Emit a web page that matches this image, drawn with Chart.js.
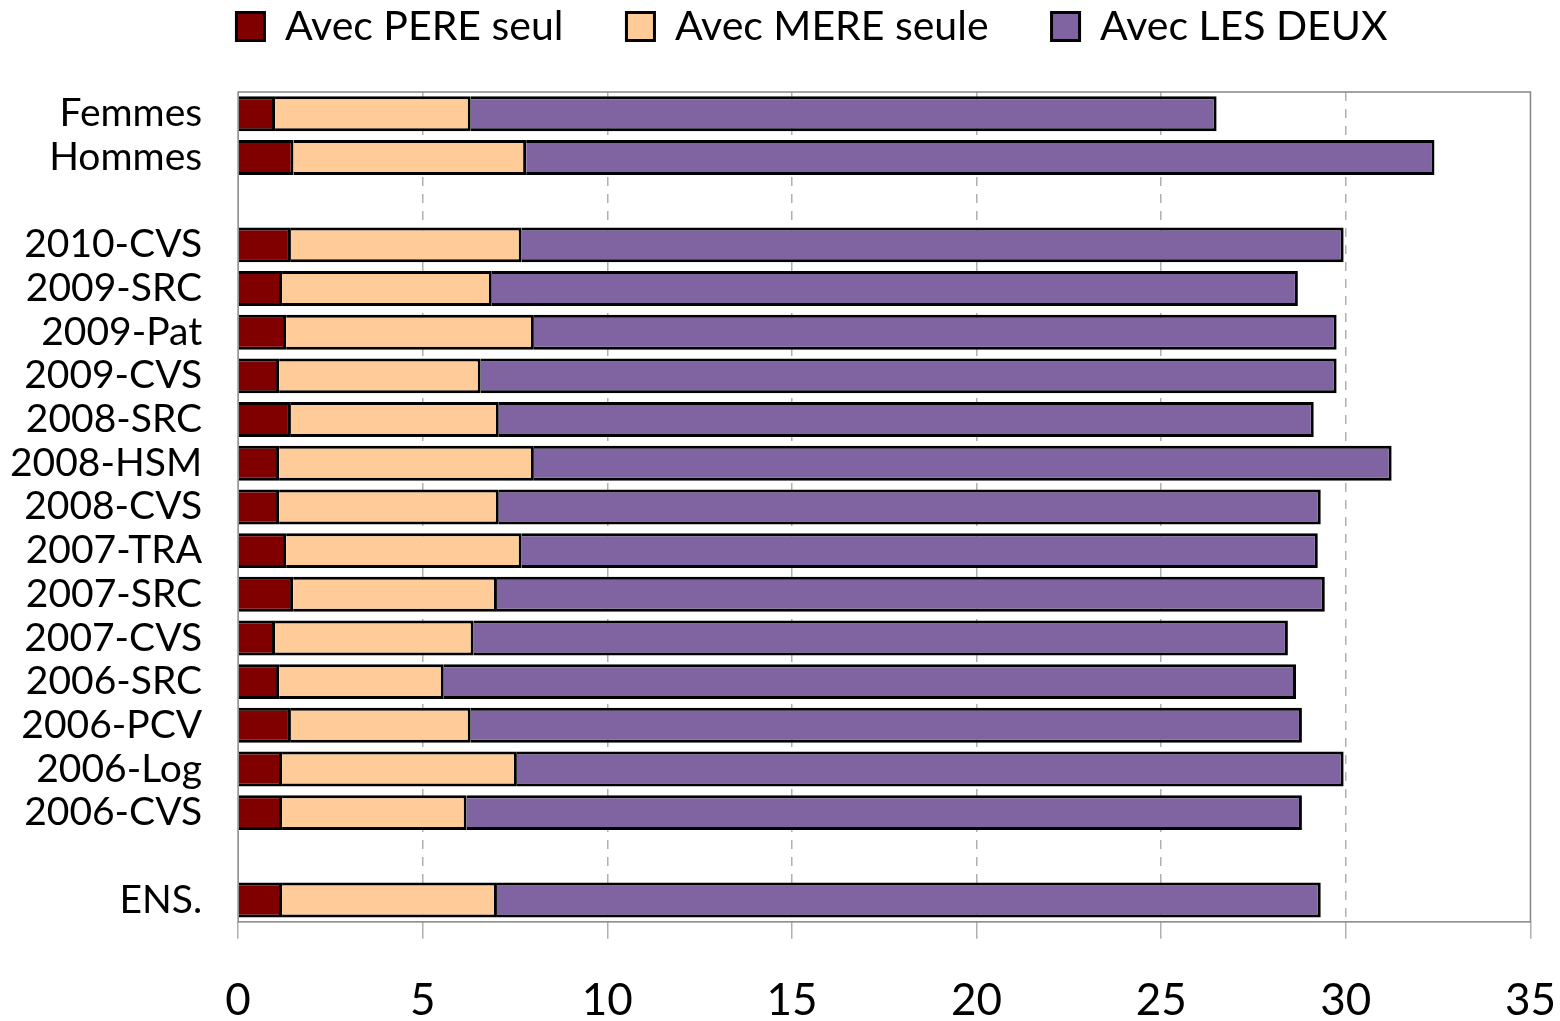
<!DOCTYPE html>
<html>
<head>
<meta charset="utf-8">
<script src="https://cdn.jsdelivr.net/npm/chart.js@4"></script>
<style>
  html, body { margin: 0; padding: 0; background: #fff; }
  #wrap { width: 1560px; height: 1021px; }
</style>
</head>
<body>
<div id="wrap"><canvas id="chart"></canvas></div>
<script>
// categories (chaînes vides = lignes blanches)
const categories = ["Femmes", "Hommes", "", "2010-CVS", "2009-SRC", "2009-Pat", "2009-CVS", "2008-SRC",
  "2008-HSM", "2008-CVS", "2007-TRA", "2007-SRC", "2007-CVS", "2006-SRC", "2006-PCV", "2006-Log", "2006-CVS", "", "ENS."];

const avecPere = [1.0, 1.5, null, 1.43, 1.19, 1.30, 1.11, 1.43, 1.11, 1.11, 1.30, 1.49, 1.0, 1.11, 1.43, 1.19, 1.19, null, 1.19];
const avecMere = [5.3, 6.3, null, 6.25, 5.68, 6.71, 5.46, 5.63, 6.9, 5.95, 6.38, 5.52, 5.38, 4.46, 4.87, 6.36, 5.0, null, 5.82];
const avecDeux = [20.2, 24.6, null, 22.26, 21.83, 21.74, 23.18, 22.07, 23.23, 22.26, 21.56, 22.42, 22.05, 23.08, 22.51, 22.39, 22.62, null, 22.31];

const xTicks = [0, 5, 10, 15, 20, 25, 30, 35];

const police = "Lato, 'Open Sans', sans-serif";

// cadre gris autour de la zone de tracé
const cadre = {
  id: "cadre",
  beforeDatasetsDraw(chart) {
    const { ctx, chartArea } = chart;
    ctx.save();
    ctx.strokeStyle = "#858585";
    ctx.lineWidth = 1.5;
    ctx.strokeRect(chartArea.left, chartArea.top, chartArea.right - chartArea.left, chartArea.bottom - chartArea.top);
    ctx.restore();
  }
};

// hauteur fixe pour la légende + petit décalage à droite
const legendeHauteur = {
  id: "legendeHauteur",
  beforeInit(chart) {
    const fitOrig = chart.legend.fit;
    chart.legend.fit = function () {
      fitOrig.bind(chart.legend)();
      this.height = 149;
    };
  },
  afterLayout(chart) {
    chart.legend.left += 46;
    chart.legend.right += 46;
  }
};

new Chart(document.getElementById("chart"), {
  type: "bar",
  data: {
    labels: categories,
    datasets: [
      { label: "Avec PERE seul", data: avecPere, backgroundColor: "#800000", borderColor: "#000", borderWidth: 3 },
      { label: "Avec MERE seule", data: avecMere, backgroundColor: "#FFCC99", borderColor: "#000", borderWidth: 3 },
      { label: "Avec LES DEUX", data: avecDeux, backgroundColor: "#8064A2", borderColor: "#000", borderWidth: 3 }
    ]
  },
  options: {
    indexAxis: "y",
    responsive: true,
    maintainAspectRatio: false,
    animation: false,
    datasets: { bar: { barPercentage: 0.8, categoryPercentage: 1 } },
    layout: { padding: { left: -26, right: 2, top: -57, bottom: -42 } },
    plugins: {
      tooltip: { enabled: false },
      legend: {
        position: "top",
        labels: {
          boxWidth: 28,
          boxHeight: 28,
          padding: 63,
          color: "#000",
          font: { family: police, size: 41 }
        }
      }
    },
    scales: {
      x: {
        stacked: true,
        min: 0,
        max: 35,
        afterBuildTicks(axis) { axis.ticks = xTicks.map(v => ({ value: v })); },
        grid: {
          color: ctx => (ctx.tick && (ctx.tick.value === 0 || ctx.tick.value === 35)) ? "rgba(0,0,0,0)" : "#b0b0b0",
          lineWidth: 1.5,
          tickLength: 17,
          tickColor: "#b0b0b0",
          tickWidth: 1.5
        },
        border: { display: false, dash: [9, 8] },
        ticks: { color: "#000", padding: 4, maxRotation: 0, font: { family: police, size: 44, lineHeight: 2.64 } }
      },
      y: {
        stacked: true,
        grid: { display: false, drawTicks: false },
        border: { display: false },
        ticks: { color: "#000", padding: 36, autoSkip: false, font: { family: police, size: 39 } }
      }
    }
  },
  plugins: [cadre, legendeHauteur]
});
</script>
</body>
</html>
